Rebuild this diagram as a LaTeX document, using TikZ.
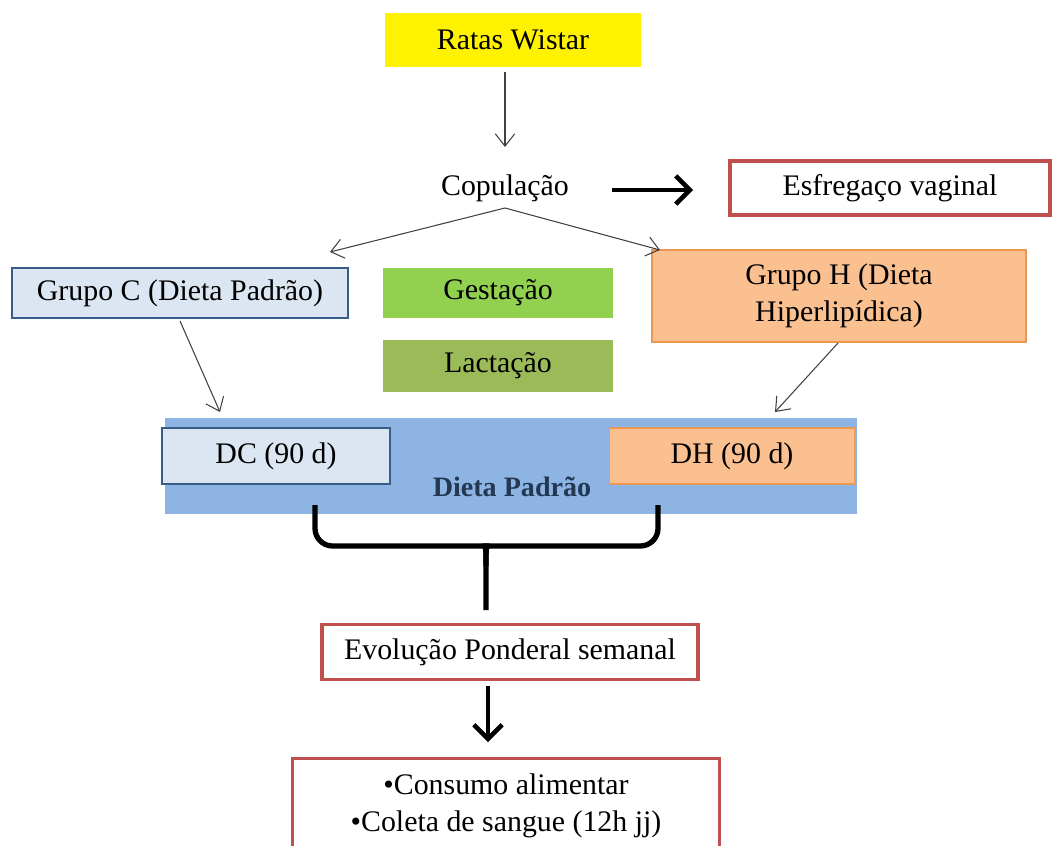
\documentclass[tikz,border=0pt]{standalone}
\usepackage{fontspec}
\setmainfont{Liberation Serif}
\usetikzlibrary{arrows.meta}

\definecolor{redline}{HTML}{C0504D}
\definecolor{paleblue}{HTML}{DCE6F2}
\definecolor{navyline}{HTML}{385D8A}
\definecolor{peach}{HTML}{FAC090}
\definecolor{orangeline}{HTML}{E46C0A}
\definecolor{bandblue}{HTML}{8EB4E3}
\definecolor{gestgreen}{HTML}{92D050}
\definecolor{lactgreen}{HTML}{9BBB59}

\tikzset{
	txt/.style={font=\fontsize{17}{21}\selectfont, align=center, inner sep=0pt},
	redbox/.style={txt, draw=redline, line width=1.8pt, fill=white},
	bluebox/.style={txt, draw=navyline, line width=0.7pt, fill=paleblue},
	peachbox/.style={txt, draw=orangeline!70, line width=0.7pt, fill=peach},
	thin arrow/.style={-{Straight Barb[length=7pt, width=11pt]}, line width=0.6pt, draw=black!75},
	thick arrow/.style={-{Straight Barb[length=8pt, width=16pt]}, line width=2.6pt},
	brace/.style={line width=3pt, rounded corners=10pt},
}

\begin{document}
\begin{tikzpicture}[x=0.02cm, y=-0.02cm]
	\useasboundingbox (0, 0) rectangle (1054, 845);
	% top
	\node[txt, fill=yellow, minimum width=5.12cm, minimum height=1.1cm] (ratas) at (513, 40) {Ratas Wistar};
	\node[txt] (copula) at (505, 188) {Copulação};
	\node[redbox, minimum width=6.4cm, minimum height=1.08cm] (esfrega) at (890, 188) {Esfregaço vaginal};
	\draw[thin arrow] (505, 72) -- (505, 147);
	\draw[thick arrow] (612, 190) -- (693, 190);
	% groups
	\node[bluebox, minimum width=6.72cm, minimum height=1cm] (grupoC) at (180, 293) {Grupo C (Dieta Padrão)};
	\node[peachbox, minimum width=7.48cm, minimum height=1.84cm] (grupoH) at (839, 296) {Grupo H (Dieta\\Hiperlipídica)};
	\node[txt, fill=gestgreen, minimum width=4.62cm, minimum height=1cm] (gesta) at (498, 293) {Gestação};
	\node[txt, fill=lactgreen, minimum width=4.62cm, minimum height=1.04cm] (lacta) at (498, 366) {Lactação};
	\coordinate (split) at (505, 208);
	\draw[thin arrow] (split) -- (330, 252);
	\draw[thin arrow] (split) -- (660, 250);
	% diet band
	\node[fill=bandblue, minimum width=13.86cm, minimum height=1.94cm, inner sep=0pt] (band) at (511, 466) {};
	\node[bluebox, minimum width=4.56cm, minimum height=1.12cm] (dc) at (276, 456) {DC (90 d)};
	\node[peachbox, minimum width=4.9cm, minimum height=1.12cm] (dh) at (732, 456) {DH (90 d)};
	\node[txt, font=\fontsize{16}{20}\selectfont\bfseries, text=navyline!60!black] (padrao) at (512, 487) {Dieta Padrão};
	\draw[thin arrow] (180, 321) -- (220, 412);
	\draw[thin arrow] (838, 343) -- (775, 412);
	% brace
	\coordinate (tip) at (486, 610);
	\draw[brace] (315, 505) -- (315, 546) -- (472, 546) [sharp corners] .. controls (486, 546) .. (486, 566) -- (tip);
	\draw[brace] (658, 505) -- (658, 546) -- (500, 546) [sharp corners] .. controls (486, 546) .. (486, 566);
	% bottom
	\node[redbox, minimum width=7.52cm, minimum height=1.1cm] (evolu) at (510, 652) {Evolução Ponderal semanal};
	\node[redbox, minimum width=8.54cm, minimum height=1.9cm, anchor=north] (coleta) at (506, 757) {•Consumo alimentar\\•Coleta de sangue (12h jj)};
	\draw[thick arrow] (488, 686) -- (488, 742);
\end{tikzpicture}
\end{document}
